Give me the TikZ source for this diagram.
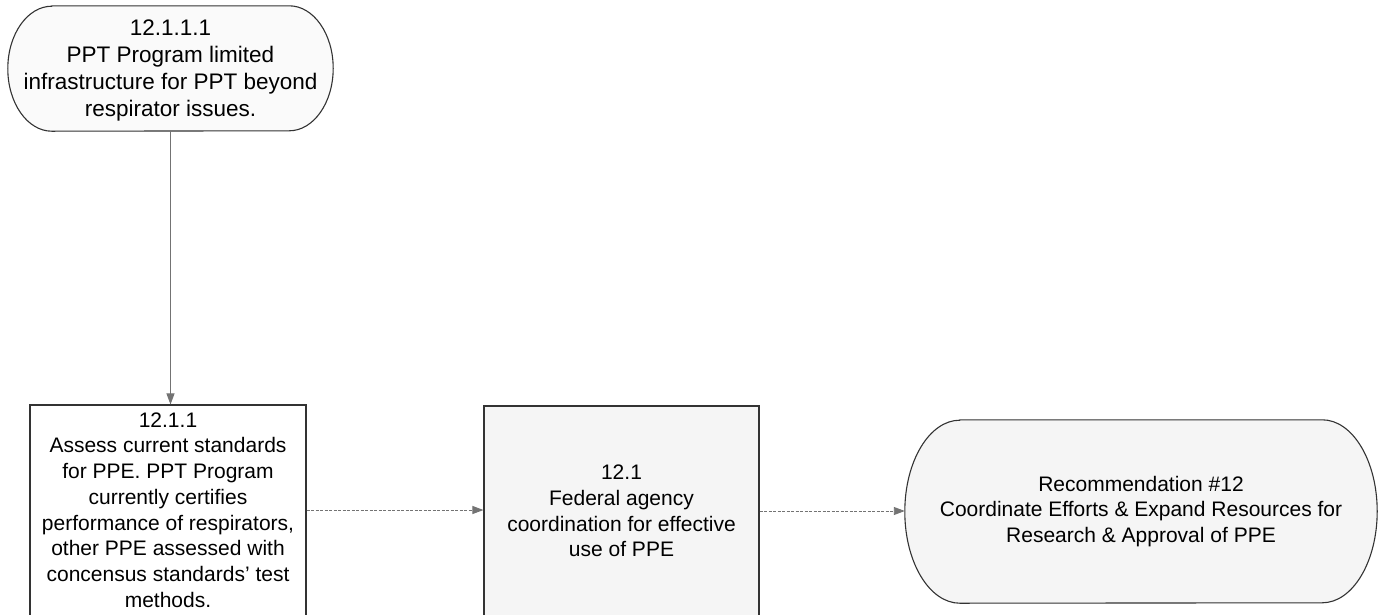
\documentclass[tikz,border=0pt]{standalone}
\usepackage{fontspec}
\setmainfont{Liberation Sans}
\usetikzlibrary{arrows.meta}
\begin{document}
\begin{tikzpicture}[x=1pt,y=-1pt,
  every node/.style={font=\fontsize{21}{25.7}\selectfont, text=black, align=center, inner sep=0pt},
  frame/.style={draw=black!80, line width=1.1pt},
  boxnode/.style={frame, rectangle, minimum width=#1, minimum height=224pt},
  flow/.style={draw=black!55, line width=0.9pt, -{Triangle[length=11pt,width=8pt]}},
  flowdash/.style={flow, dash pattern=on 3pt off 1.5pt}]
\useasboundingbox (0,0) rectangle (1379,614);
\clip (0,0) rectangle (1379,614);

% start: problem statement in a stadium outline
\node[minimum width=325pt, minimum height=125pt] (s1) at (170.5,68.5) {};
\draw[frame, fill=black!2]
  ([xshift=44pt]s1.north west) -- ([xshift=-44pt]s1.north east)
  arc[start angle=90, end angle=-90, x radius=44pt, y radius=62.5pt]
  -- ([xshift=44pt]s1.south west)
  arc[start angle=270, end angle=90, x radius=44pt, y radius=62.5pt] -- cycle;
\node[font=\fontsize{22.5}{27}\selectfont] (t1) at (s1.center) [yshift=-2pt] {12.1.1.1\\PPT Program limited\\infrastructure for PPT beyond\\respirator issues.};

% activity boxes (run past the lower edge)
\node[boxnode=276pt, fill=white] (b1) at (168,517) {};
\node (t2) at (168,510) {12.1.1\\Assess current standards\\for PPE. PPT Program\\currently certifies\\performance of respirators,\\other PPE assessed with\\concensus standards' test\\methods.};
\node[boxnode=275pt, fill=black!4] (b2) at (621.5,518) {};
\node (t3) at (621.5,511) {12.1\\Federal agency\\coordination for effective\\use of PPE};

% end: recommendation stadium
\node[minimum width=472pt, minimum height=183pt] (s3) at (1141,511.5) {};
\draw[frame, fill=black!4]
  ([xshift=55pt]s3.north west) -- ([xshift=-55pt]s3.north east)
  arc[start angle=90, end angle=-90, x radius=55pt, y radius=91.5pt]
  -- ([xshift=55pt]s3.south west)
  arc[start angle=270, end angle=90, x radius=55pt, y radius=91.5pt] -- cycle;
\node (t4) at (s3.center) {Recommendation \#12\\Coordinate Efforts \& Expand Resources for\\Research \& Approval of PPE};

% connectors
\draw[flow] (s1.south) -- (s1.south |- b1.north);
\draw[flowdash] (b1.east |- t2.center) -- (b2.west |- t2.center);
\draw[flowdash] (b2.east |- t3.center) -- (s3.west |- t3.center);
\end{tikzpicture}
\end{document}
